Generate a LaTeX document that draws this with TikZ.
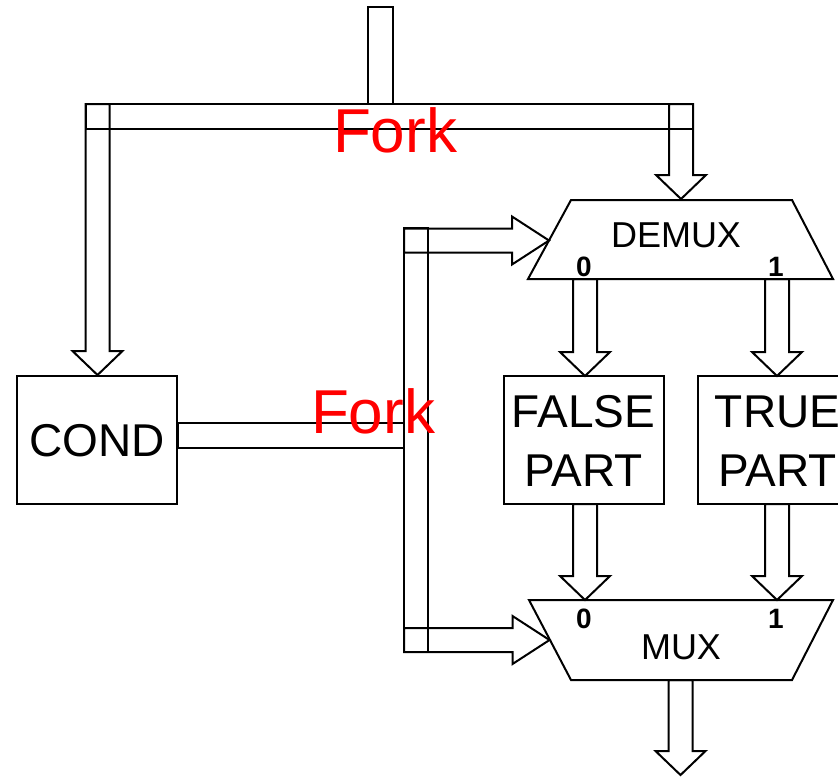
\documentclass[tikz,border=0pt]{standalone}
\usepackage{fontspec}
\setmainfont{Liberation Sans}
\usepackage{tikz}
\usetikzlibrary{calc}

\begin{document}
\begin{tikzpicture}[
            x=0.5pt,
            y=-0.5pt,
            fat/.style={
                draw,
                line width=1pt,
                line join=miter
            },
            block/.style={
                draw,
                line width=1pt,
                minimum width=80pt,
                minimum height=64pt,
                inner sep=0pt
            },
            blocktext/.style={
                font=\fontsize{23pt}{29.5pt}\selectfont,
                align=center
            },
            muxtext/.style={
                font=\fontsize{18pt}{20pt}\selectfont,
                anchor=base
            },
            sel/.style={
                font=\fontsize{14pt}{16pt}\selectfont\bfseries,
                anchor=base
            },
            forklabel/.style={
                font=\fontsize{31pt}{34pt}\selectfont,
                text=red,
                anchor=base
            }
        ]

            % Page size (px of the reference)
            \useasboundingbox (0,0) rectangle (838,776);
            \clip (0,0) rectangle (838,776);

            % Fat arrow parameters
            \def\sw{12}     % half shaft width
            \def\hw{25}     % half head width, downward
            \def\hl{24}     % head length, downward
            \def\hwr{24}    % half head width, rightward
            \def\hlr{37}    % head length, rightward

            % --- Fat arrows: #1 = start (shaft centre), #2 = tip ---
            \def\fatdown#1#2{%
                \draw[fat] ($(#1)+(-\sw,0)$) |- ($(#2)+(-\hw,-\hl)$) -- (#2)
                    -- ($(#2)+(\hw,-\hl)$) -| ($(#1)+(\sw,0)$) -- cycle;}
            \def\fatright#1#2{%
                \draw[fat] ($(#1)+(0,-\sw)$) -| ($(#2)+(-\hlr,-\hwr)$) -- (#2)
                    -- ($(#2)+(-\hlr,\hwr)$) |- ($(#1)+(0,\sw)$) -- cycle;}

            % Blocks
            \node[block] (cond)  at (97,440)    {};
            \node[block] (false) at (583.5,440) {};
            \node[block] (true)  at (777.5,440) {};
            \node[blocktext] (condtxt)  at (97,441)    {COND};
            \node[blocktext] (falsetxt) at (583.5,441) {FALSE\\PART};
            \node[blocktext] (truetxt)  at (777.5,441) {TRUE\\PART};

            % DEMUX and MUX trapezia
            \draw[fat] (528,279) -- (571,200) -- (792,200) -- (833,279) -- cycle;
            \draw[fat] (529,600) -- (833,600) -- (792,680) -- (571,680) -- cycle;
            \node[muxtext] (demux) at (676,247) {DEMUX};
            \node[muxtext] (mux)   at (681,659) {MUX};
            \foreach \y [count=\k] in {276,628} {
                \node[sel] (zero\k) at (584,\y) {0};
                \node[sel] (one\k)  at (776,\y) {1};
            }

            % Arrow end points
            \coordinate (in)      at (380.5,7);
            \coordinate (forkL)   at (97.5,104);
            \coordinate (forkR)   at (681,104);
            \coordinate (condIn)  at (97.5,375);
            \coordinate (demuxIn) at (681,199);
            \coordinate (selTop)  at (404,240.5);
            \coordinate (selBot)  at (404,640);
            \coordinate (demuxS)  at (549,240.5);
            \coordinate (muxS)    at (549.5,640);
            \coordinate (muxOut)  at (680.5,680);
            \coordinate (out)     at (680.5,775);

            % Top input and first fork
            \draw[fat] (368,7) rectangle (393,104);
            \draw[fat] (86,104) rectangle (693,129);
            \fatdown{forkL}{condIn}
            \fatdown{forkR}{demuxIn}
            \node[forklabel] (fork1) at (395,152) {Fork};

            % Condition bus and second fork
            \draw[fat] (cond.east |- 0,423) rectangle (404,448);
            \draw[fat] (404,228) rectangle (428,652);
            \fatright{selTop}{demuxS}
            \fatright{selBot}{muxS}
            \node[forklabel] (fork2) at (373,433) {Fork};

            % Data paths
            \foreach \x in {585,777} {
                \fatdown{\x,279}{\x,376}
                \fatdown{\x,504}{\x,600}
            }
            \fatdown{muxOut}{out}

        \end{tikzpicture}
\end{document}
